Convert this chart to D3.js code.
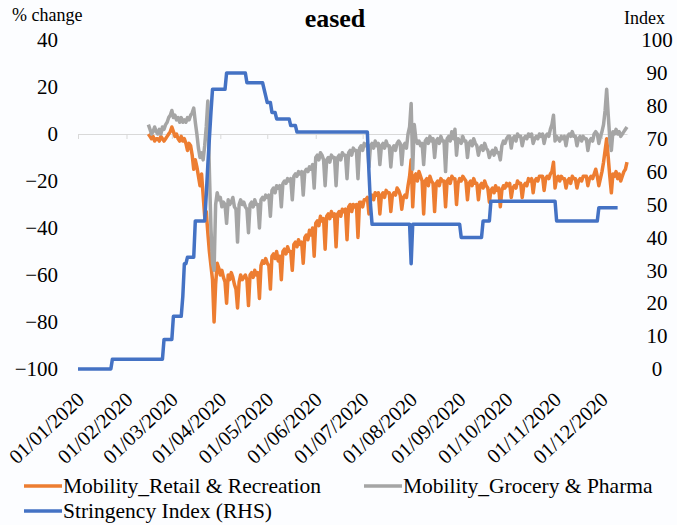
<!DOCTYPE html>
<html>
<head>
<meta charset="utf-8">
<script src="https://cdn.jsdelivr.net/npm/d3@7"></script>
<style>
  body { margin: 0; background: #fcfdff; }
  svg { display: block; font-family: "Liberation Serif", "Times New Roman", serif; }
</style>
</head>
<body>
<svg id="chart" width="677" height="525"></svg>
<script>
// daily mobility (% change vs baseline), first value is 15/02/2020, rows run Sat..Fri
const mobilityStart = "15/02/2020";

const retailRecreation = [
    0, -1, -2, -1, -3, -2, -2,
    -3, -1, -2, -3, -2, -1, 0,
    1, 3, 1, -1, 0, -2, -3,
    -1, -3, -2, -4, -7, -4, -5,
    -9, -15, -11, -14, -18, -22, -17,
    -26, -35, -33, -42, -50, -56, -62,
    -80, -64, -55, -57, -60, -58, -61,
    -63, -72, -60, -62, -59, -61, -64,
    -66, -74, -63, -60, -62, -61, -60,
    -62, -73, -60, -59, -61, -58, -60,
    -59, -70, -56, -54, -55, -53, -55,
    -56, -66, -52, -51, -53, -50, -54,
    -52, -62, -50, -49, -51, -48, -50,
    -50, -58, -47, -46, -48, -45, -47,
    -46, -55, -44, -43, -45, -41, -43,
    -40, -52, -38, -37, -39, -35, -37,
    -36, -49, -35, -34, -36, -33, -35,
    -34, -48, -34, -33, -35, -32, -33,
    -32, -45, -31, -30, -33, -30, -31,
    -30, -44, -29, -29, -31, -28, -28,
    -27, -34, -27, -26, -28, -25, -26,
    -25, -34, -26, -25, -27, -24, -25,
    -25, -33, -26, -25, -26, -23, -24,
    -26, -32, -27, -26, -27, -22, -18,
    -11, -31, -18, -17, -20, -16, -18,
    -20, -34, -20, -19, -22, -18, -20,
    -21, -33, -21, -20, -22, -19, -20,
    -20, -31, -20, -19, -21, -18, -19,
    -19, -30, -21, -19, -20, -18, -19,
    -20, -28, -21, -20, -22, -19, -21,
    -21, -28, -22, -21, -23, -20, -22,
    -23, -29, -24, -23, -25, -22, -24,
    -23, -31, -24, -22, -23, -21, -22,
    -21, -27, -23, -22, -23, -20, -21,
    -21, -27, -22, -21, -22, -19, -20,
    -19, -25, -20, -19, -20, -18, -18,
    -18, -24, -19, -18, -19, -17, -16,
    -12, -23, -19, -18, -20, -18, -19,
    -19, -23, -20, -19, -21, -18, -19,
    -19, -23, -20, -19, -20, -18, -18,
    -18, -22, -19, -18, -19, -17, -15,
    -18, -22, -19, -16, -12, -7, -2,
    -10, -18, -25, -17, -18, -16, -19,
    -17, -20, -18, -16, -15, -12
];

const groceryPharma = [
    4, 2, 0, 1, 3, 1, 0,
    2, 0, 3, 2, 4, 5, 7,
    8, 10, 7, 8, 6, 7, 5,
    7, 5, 6, 5, 7, 6, 8,
    9, 11, 5, 0, -6, -10, -8,
    -11, -5, 3, 14, -16, -40, -55,
    -58, -30, -25, -28, -27, -31, -29,
    -30, -38, -28, -30, -29, -27, -31,
    -32, -46, -30, -28, -30, -29, -31,
    -32, -42, -30, -29, -31, -28, -30,
    -30, -40, -28, -27, -28, -26, -27,
    -26, -35, -24, -23, -25, -22, -23,
    -22, -31, -21, -20, -21, -19, -20,
    -19, -28, -18, -17, -18, -16, -17,
    -16, -26, -16, -15, -16, -14, -15,
    -13, -23, -10, -9, -11, -8, -9,
    -11, -22, -11, -10, -12, -9, -10,
    -10, -22, -10, -9, -11, -8, -9,
    -9, -19, -8, -7, -9, -6, -7,
    -7, -19, -6, -5, -7, -4, -5,
    -4, -14, -5, -4, -6, -3, -5,
    -4, -13, -5, -4, -6, -3, -5,
    -5, -14, -6, -5, -7, -4, -3,
    -4, -13, -5, -4, -6, 0, 3,
    13, -15, 4, -2, -4, -3, -5,
    -4, -13, -3, -2, -4, -1, -3,
    -2, -10, -3, -2, -4, -1, -3,
    -3, -16, -2, -1, -3, 1, -2,
    2, -9, -2, -3, -4, -1, -3,
    -3, -10, -4, -3, -5, -2, -4,
    -5, -9, -6, -5, -7, -4, -6,
    -7, -10, -8, -7, -9, -6, -8,
    -8, -11, -5, -3, -4, -2, -1,
    -1, -6, -2, -1, -3, 0, -1,
    -1, -5, -2, -1, -2, 0, -1,
    0, -4, -2, -1, -2, 0, -1,
    0, -4, -1, 0, -1, 2, 4,
    8, -3, -1, -2, -3, -1, -2,
    -1, -5, -1, 0, -1, 1, -1,
    -1, -5, -2, -1, -3, -1, -2,
    -2, -7, -3, -2, -3, 0, 1,
    0, -4, -1, 1, 4, 10, 19,
    8, -2, -7, 1, 0, 2, 0,
    1, -1, 0, 1, 2, 3
];

// stringency index (RHS), the days on which it changes
const stringencyDates = [
    "01/01/2020", "22/01/2020", "23/01/2020", "24/02/2020", "25/02/2020",
    "01/03/2020", "02/03/2020", "07/03/2020", "08/03/2020", "09/03/2020",
    "10/03/2020", "11/03/2020", "15/03/2020", "16/03/2020", "22/03/2020",
    "23/03/2020", "24/03/2020", "25/03/2020", "26/03/2020", "27/03/2020",
    "04/04/2020", "05/04/2020", "17/04/2020", "18/04/2020", "28/04/2020",
    "30/04/2020", "01/05/2020", "03/05/2020", "04/05/2020", "06/05/2020",
    "07/05/2020", "15/05/2020", "16/05/2020", "19/05/2020", "20/05/2020",
    "04/07/2020", "05/07/2020", "06/07/2020", "07/07/2020", "31/07/2020",
    "01/08/2020", "02/08/2020", "01/09/2020", "02/09/2020", "15/09/2020",
    "16/09/2020", "20/09/2020", "21/09/2020", "01/11/2020", "02/11/2020",
    "28/11/2020", "29/11/2020", "11/12/2020"
];
const stringencyValues = [
    0, 0, 3, 3, 9,
    9, 16, 16, 22, 32,
    32, 34, 34, 45, 45,
    53, 62, 70, 78, 85,
    85, 90, 90, 87, 87,
    83, 81, 81, 78, 78,
    76, 76, 74, 74, 72,
    72, 60, 50, 44, 44,
    32, 44, 44, 40, 40,
    45, 45, 51, 51, 45,
    45, 49, 49
];

const tickLabels = [
    "01/01/2020", "01/02/2020", "01/03/2020", "01/04/2020", "01/05/2020", "01/06/2020",
    "01/07/2020", "01/08/2020", "01/09/2020", "01/10/2020", "01/11/2020", "01/12/2020"
];
const leftTicks = [-100, -80, -60, -40, -20, 0, 20, 40];
const rightTicks = [0, 10, 20, 30, 40, 50, 60, 70, 80, 90, 100];
const axisEnd = "17/12/2020";

const colors = { retail: "#ED7D31", grocery: "#A5A5A5", stringency: "#4472C4" };

let parse = d3.utcParse("%d/%m/%Y");
let fmt = d3.utcFormat("%d/%m/%Y");
let svg = d3.select("#chart");

let tickDates = tickLabels.map(parse);
let start = parse(mobilityStart);

let x = d3.scaleUtc()
    .domain([tickDates[0], parse(axisEnd)])
    .range([78, 627]);
let yL = d3.scaleLinear().domain([-100, 40]).range([369, 40]);
let yR = d3.scaleLinear().domain([0, 100]).range([369, 40]);

function mobilitySeries(values) {
    return values.map(function(v, i) {
        return { date: d3.utcDay.offset(start, i), value: v };
    });
}
let retail = mobilitySeries(retailRecreation);
let grocery = mobilitySeries(groceryPharma);
let stringency = stringencyDates.map(function(d, i) {
    return { date: parse(d), value: stringencyValues[i] };
});

// zero line with month ticks
let zero = svg.append("g")
    .attr("transform", "translate(0," + yL(0) + ")")
    .call(d3.axisBottom(x).tickValues(tickDates).tickSize(5).tickSizeOuter(0).tickFormat(""));
zero.selectAll("path, line").attr("stroke", "#d9d9d9").attr("stroke-width", 1);

// left axis
let left = svg.append("g")
    .attr("transform", "translate(58,0)")
    .call(d3.axisLeft(yL).tickValues(leftTicks).tickSize(0).tickPadding(0).tickFormat(d3.format("d")));
left.select(".domain").remove();
left.selectAll("text")
    .attr("font-family", "Liberation Serif")
    .attr("font-size", 21)
    .attr("fill", "#000");

// right axis
let right = svg.append("g")
    .attr("transform", "translate(657,0)")
    .call(d3.axisRight(yR).tickValues(rightTicks).tickSize(0).tickPadding(0));
right.select(".domain").remove();
right.selectAll("text")
    .attr("x", 0)
    .attr("text-anchor", "middle")
    .attr("font-family", "Liberation Serif")
    .attr("font-size", 21)
    .attr("fill", "#000");

// date labels along the bottom
let bottom = svg.append("g")
    .attr("transform", "translate(2,396)")
    .call(d3.axisBottom(x).tickValues(tickDates).tickSize(0).tickFormat(fmt));
bottom.select(".domain").remove();
bottom.selectAll("text")
    .attr("x", 0)
    .attr("y", 0)
    .attr("dy", "0.35em")
    .attr("text-anchor", "end")
    .attr("transform", "rotate(-43)")
    .attr("font-family", "Liberation Serif")
    .attr("font-size", 20.5)
    .attr("fill", "#000");

// series
let lineL = d3.line()
    .x(function(d) { return x(d.date); })
    .y(function(d) { return yL(d.value); });
let lineR = d3.line()
    .x(function(d) { return x(d.date); })
    .y(function(d) { return yR(d.value); });

svg.append("path").datum(retail)
    .attr("fill", "none").attr("stroke", colors.retail)
    .attr("stroke-width", 3.5).attr("stroke-linejoin", "round")
    .attr("d", lineL);
svg.append("path").datum(grocery)
    .attr("fill", "none").attr("stroke", colors.grocery)
    .attr("stroke-width", 3.5).attr("stroke-linejoin", "round")
    .attr("d", lineL);
svg.append("path").datum(stringency)
    .attr("fill", "none").attr("stroke", colors.stringency)
    .attr("stroke-width", 3.5).attr("stroke-linejoin", "round")
    .attr("d", lineR);

// titles
svg.append("text")
    .attr("x", 12).attr("y", 21)
    .attr("font-size", 18)
    .text("% change");
svg.append("text")
    .attr("x", 624).attr("y", 24)
    .attr("font-size", 18)
    .text("Index");
svg.append("text")
    .attr("x", 335).attr("y", 27)
    .attr("text-anchor", "middle")
    .attr("font-size", 26)
    .attr("font-weight", "bold")
    .text("eased");

// legend
let legendItems = [
    { name: "Mobility_Retail & Recreation", color: colors.retail, x: 24, y: 486 },
    { name: "Mobility_Grocery & Pharma", color: colors.grocery, x: 364, y: 486 },
    { name: "Stringency Index (RHS)", color: colors.stringency, x: 24, y: 511 }
];
let legend = svg.append("g");
legendItems.forEach(function(item) {
    legend.append("line")
        .attr("x1", item.x).attr("x2", item.x + 38)
        .attr("y1", item.y).attr("y2", item.y)
        .attr("stroke", item.color).attr("stroke-width", 3.5);
    legend.append("text")
        .attr("x", item.x + 39).attr("y", item.y + 7)
        .attr("font-size", 21.5)
        .text(item.name);
});
</script>
</body>
</html>
